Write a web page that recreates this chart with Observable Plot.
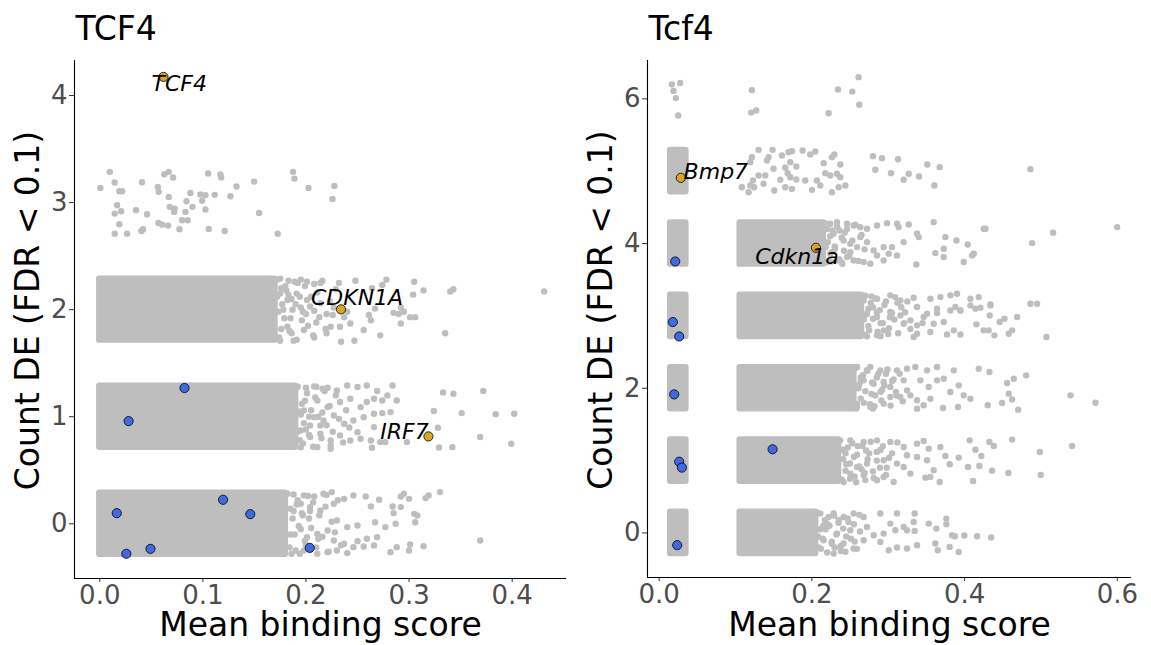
<!DOCTYPE html>
<html>
<head>
<meta charset="utf-8">
<script src="https://cdn.jsdelivr.net/npm/d3@7"></script>
<script src="https://cdn.jsdelivr.net/npm/@observablehq/plot@0.6"></script>
<style>
  html, body { margin: 0; padding: 0; background: #fff; }
  #left, #right { position: absolute; top: 0; }
  #left { left: 0; }
  #right { left: 580px; }
</style>
</head>
<body>
<div id="left"></div>
<div id="right"></div>
<script>
// ---------------- DATA: TCF4 (human) ----------------
const tcf4Title = "TCF4";
const tcf4XTicks = [0, 0.1, 0.2, 0.3, 0.4];
const tcf4YTicks = [0, 1, 2, 3, 4];
// dense cores of the jittered clouds: row (count DE), x extent
const tcf4DenseRow = [0, 1, 2];
const tcf4DenseX1 = [0, 0, 0];
const tcf4DenseX2 = [0.18, 0.19, 0.17];
// sparse gray genes [mean binding score, jittered count]
const tcf4Row3 = [[0.0097,3.287],[0.0006,3.137],[0.0145,3.187],[0.019,3.106],[0.0217,3.106],[0.0168,2.975],[0.0145,2.897],[0.0207,2.919],[0.019,2.798],[0.0145,2.71],[0.0265,2.71],[0.0352,2.928],[0.041,3.19],[0.0459,2.891],[0.0404,2.735],[0.042,2.751],[0.0563,3.146],[0.0572,3.1],[0.0569,2.81],[0.0605,2.794],[0.0663,2.785],[0.0627,3.265],[0.0669,3.287],[0.0711,3.234],[0.0669,3.053],[0.0679,2.96],[0.0727,2.944],[0.0721,2.913],[0.0773,2.751],[0.0799,2.835],[0.0854,2.835],[0.0831,2.913],[0.0841,3.012],[0.0879,3.09],[0.0899,2.96],[0.0976,3.075],[0.1025,3.069],[0.0993,3.016],[0.1025,2.935],[0.1051,3.271],[0.1057,2.754],[0.1115,3.072],[0.117,3.262],[0.1177,3.234],[0.1212,2.735],[0.1267,3.059],[0.1326,3.15],[0.1497,3.196],[0.1545,2.903],[0.1726,2.71],[0.1875,3.287],[0.1888,3.224],[0.2024,3.137],[0.2276,3.156],[0.2257,3.034]];
const tcf4Row2 = [[0.162,2.29],[0.169,2.27],[0.175,2.29],[0.183,2.27],[0.195,2.28],[0.201,2.26],[0.208,2.24],[0.214,2.25],[0.232,2.25],[0.248,2.27],[0.264,2.2],[0.278,2.28],[0.274,2.23],[0.305,2.26],[0.314,2.18],[0.304,2.14],[0.34,2.17],[0.343,2.19],[0.431,2.17],[0.175,2.15],[0.182,2.09],[0.191,2.15],[0.195,2.02],[0.201,2.09],[0.208,1.99],[0.214,2.06],[0.22,1.96],[0.227,2.02],[0.237,1.93],[0.24,1.98],[0.233,1.84],[0.243,1.87],[0.256,1.81],[0.261,1.95],[0.263,1.9],[0.267,2.01],[0.285,1.97],[0.29,1.96],[0.295,1.98],[0.301,1.93],[0.306,1.93],[0.292,1.87],[0.292,2.02],[0.272,1.76],[0.335,1.78],[0.247,1.71],[0.234,1.7],[0.22,1.78],[0.208,1.74],[0.198,1.81],[0.188,1.71],[0.175,1.71],[0.182,1.84],[0.169,1.78],[0.224,1.84],[0.172,2.12],[0.178,2.0],[0.185,1.92],[0.18,2.22],[0.19,2.05],[0.196,1.9],[0.186,1.78],[0.2,1.96],[0.205,2.12],[0.21,1.88],[0.176,1.82],[0.192,2.25],[0.183,2.14],[0.172,2.28],[0.174,1.74],[0.177,2.05],[0.179,1.92],[0.181,2.18],[0.184,1.8],[0.187,2.0],[0.189,2.26],[0.191,1.72],[0.194,2.12],[0.197,1.98],[0.199,2.22],[0.202,1.85],[0.204,2.03],[0.207,1.76],[0.211,2.16],[0.213,1.93],[0.216,2.27],[0.219,1.82],[0.223,2.08],[0.226,1.95],[0.229,2.19],[0.173,1.98],[0.176,2.2],[0.186,2.1]];
const tcf4Row1 = [[0.208,1.283],[0.216,1.261],[0.221,1.271],[0.23,1.246],[0.24,1.292],[0.25,1.277],[0.259,1.292],[0.269,1.24],[0.284,1.292],[0.279,1.199],[0.288,1.152],[0.211,1.152],[0.221,1.09],[0.233,1.137],[0.243,1.168],[0.253,1.09],[0.259,1.137],[0.266,1.168],[0.274,1.152],[0.198,1.059],[0.208,0.996],[0.217,0.965],[0.227,1.012],[0.237,0.934],[0.246,0.965],[0.256,0.996],[0.266,1.028],[0.274,1.034],[0.282,1.043],[0.195,0.872],[0.204,0.81],[0.214,0.841],[0.224,0.778],[0.233,0.825],[0.243,0.778],[0.253,0.794],[0.263,0.778],[0.272,0.763],[0.195,0.716],[0.211,0.716],[0.224,0.732],[0.264,0.71],[0.277,0.763],[0.298,0.763],[0.324,1.053],[0.328,0.897],[0.333,1.227],[0.343,1.215],[0.351,1.034],[0.372,1.24],[0.384,1.024],[0.402,1.028],[0.369,0.81],[0.329,0.713],[0.342,0.716],[0.399,0.747],[0.266,0.903],[0.25,0.856],[0.214,0.919],[0.204,0.919],[0.193,1.05],[0.197,0.75],[0.2,1.27],[0.192,0.86],[0.199,1.15],[0.203,1.0],[0.192,1.28],[0.194,0.78],[0.196,1.12],[0.198,0.94],[0.201,1.22],[0.203,0.83],[0.205,1.06],[0.207,0.72],[0.209,1.18],[0.212,1.0],[0.215,0.8],[0.218,1.24],[0.22,0.92],[0.223,1.1],[0.226,0.86],[0.229,1.2],[0.232,0.98],[0.236,0.76],[0.239,1.06],[0.242,0.9],[0.195,1.02],[0.2,0.88],[0.21,1.28],[0.216,1.04],[0.224,0.7]];
const tcf4Row0 = [[0.188,0.274],[0.198,0.265],[0.208,0.255],[0.217,0.28],[0.225,0.296],[0.195,0.187],[0.204,0.156],[0.214,0.125],[0.227,0.187],[0.237,0.233],[0.246,0.265],[0.258,0.255],[0.271,0.224],[0.292,0.255],[0.295,0.28],[0.3,0.233],[0.319,0.265],[0.316,0.24],[0.33,0.296],[0.263,0.162],[0.284,0.162],[0.292,0.156],[0.285,0.1],[0.305,0.093],[0.308,0.078],[0.306,0.015],[0.287,0.0],[0.277,-0.031],[0.267,0.015],[0.25,-0.016],[0.24,-0.031],[0.23,0.031],[0.221,-0.062],[0.211,-0.094],[0.201,-0.125],[0.227,-0.156],[0.237,-0.187],[0.25,-0.162],[0.259,-0.14],[0.269,-0.125],[0.266,-0.202],[0.256,-0.212],[0.246,-0.218],[0.23,-0.25],[0.221,-0.265],[0.24,-0.274],[0.282,-0.265],[0.288,-0.218],[0.301,-0.193],[0.314,-0.209],[0.3,-0.25],[0.369,-0.156],[0.198,-0.25],[0.211,-0.28],[0.185,-0.1],[0.19,-0.25],[0.188,0.12],[0.193,-0.02],[0.197,0.08],[0.186,-0.28],[0.192,0.22],[0.2,-0.2],[0.203,0.05],[0.182,0.28],[0.184,-0.22],[0.187,0.05],[0.189,-0.1],[0.191,0.18],[0.194,-0.28],[0.196,0.1],[0.199,-0.16],[0.202,0.26],[0.205,-0.04],[0.207,0.2],[0.21,-0.22],[0.213,0.08],[0.216,-0.12],[0.219,0.16],[0.222,-0.26],[0.225,0.02],[0.228,-0.08],[0.231,0.22],[0.234,-0.2],[0.185,0.14],[0.195,-0.05],[0.204,0.12],[0.212,-0.14],[0.22,0.27]];
// highlighted genes
const tcf4GeneNames = ["TCF4", "CDKN1A", "IRF7"];
const tcf4GeneX = [0.0618, 0.234, 0.3188];
const tcf4GeneY = [4.174, 2.003, 0.816];
const tcf4BlueX = [0.0822, 0.028, 0.0165, 0.0258, 0.0492, 0.1196, 0.146, 0.2037];
const tcf4BlueY = [1.268, 0.959, 0.099, -0.28, -0.234, 0.224, 0.09, -0.225];

// ---------------- DATA: Tcf4 (mouse) ----------------
const mTitle = "Tcf4";
const mXTicks = [0, 0.2, 0.4, 0.6];
const mYTicks = [0, 2, 4, 6];
const mDenseRow = [0, 1, 2, 3, 4, 0, 1, 2, 3, 4, 5];
const mDenseX1 = [0.106, 0.106, 0.106, 0.106, 0.106, 0.015, 0.015, 0.015, 0.015, 0.015, 0.015];
const mDenseX2 = [0.205, 0.235, 0.255, 0.265, 0.215, 0.035, 0.035, 0.035, 0.035, 0.035, 0.035];
const mRow6 = [[0.0166,6.2],[0.0275,6.22],[0.0188,6.11],[0.0218,6.01],[0.0249,5.77],[0.1214,6.12],[0.1206,5.81],[0.1271,5.84],[0.2219,5.8],[0.2342,6.13],[0.2529,6.1],[0.2612,6.3],[0.2621,5.92]];
const mRow5 = [[0.1302,5.295],[0.1485,5.295],[0.1214,5.194],[0.1193,5.125],[0.1433,5.194],[0.1411,5.148],[0.1608,5.217],[0.1695,5.263],[0.1739,5.277],[0.1879,5.286],[0.1979,5.231],[0.2045,5.272],[0.2154,5.111],[0.2263,5.194],[0.2294,5.231],[0.2372,5.093],[0.2438,4.802],[0.2372,4.917],[0.235,4.779],[0.2241,4.941],[0.2263,4.71],[0.211,4.802],[0.2001,4.742],[0.2066,4.872],[0.1913,4.872],[0.1796,4.885],[0.1717,4.917],[0.1682,4.973],[0.1651,5.047],[0.1796,5.065],[0.1717,5.125],[0.1498,5.033],[0.1389,4.941],[0.1302,4.941],[0.1228,4.872],[0.1193,4.802],[0.1083,4.779],[0.1171,4.71],[0.1245,4.779],[0.1367,4.826],[0.1507,4.733],[0.1586,4.881],[0.1651,4.779],[0.1739,4.756],[0.2329,4.964],[0.28,5.208],[0.2918,5.18],[0.3128,5.166],[0.2831,5.019],[0.3036,4.973],[0.3268,4.964],[0.3202,4.881],[0.3403,4.927],[0.3512,5.093],[0.3674,5.056],[0.3604,4.802],[0.4862,5.028],[0.2176,4.973]];
const mRow4 = [[0.2241,4.273],[0.2329,4.296],[0.246,4.273],[0.2547,4.25],[0.2634,4.227],[0.2722,4.204],[0.2853,4.25],[0.2984,4.282],[0.3115,4.273],[0.3137,4.227],[0.3268,4.264],[0.3377,4.135],[0.3399,4.089],[0.3595,4.296],[0.3748,4.089],[0.3893,4.043],[0.4041,3.987],[0.4251,4.204],[0.4273,4.204],[0.5159,4.149],[0.4884,4.006],[0.5998,4.227],[0.2416,4.043],[0.2503,3.997],[0.2591,3.951],[0.2722,4.02],[0.2809,3.905],[0.294,3.951],[0.3006,3.859],[0.3049,3.951],[0.3115,3.836],[0.3202,4.02],[0.246,3.813],[0.2547,3.767],[0.2678,3.744],[0.2765,3.721],[0.294,3.767],[0.2853,3.836],[0.3368,3.712],[0.3617,3.868],[0.3727,3.928],[0.3727,3.813],[0.3989,3.744],[0.4098,3.836],[0.412,3.859],[0.2503,3.882],[0.2329,3.767],[0.2263,3.882],[0.2285,4.135],[0.2634,4.089],[0.218,3.95],[0.22,4.2],[0.225,3.75],[0.23,3.92],[0.236,4.18],[0.239,3.74],[0.243,4.15],[0.217,4.28],[0.219,3.74],[0.221,4.02],[0.224,3.86],[0.227,4.18],[0.23,3.96],[0.233,4.24],[0.236,3.78],[0.239,4.08],[0.242,3.9],[0.246,4.2],[0.249,3.83],[0.253,4.04],[0.257,4.26],[0.261,3.76],[0.265,4.12],[0.269,3.92],[0.224,4.1],[0.24,3.72]];
const mRow3 = [[0.2329,3.26],[0.2503,3.284],[0.2678,3.214],[0.2853,3.237],[0.3027,3.284],[0.3159,3.214],[0.3333,3.251],[0.3552,3.237],[0.3683,3.26],[0.3814,3.284],[0.3901,3.307],[0.4076,3.237],[0.4185,3.26],[0.4338,3.145],[0.4862,3.168],[0.495,3.168],[0.3377,3.122],[0.3639,3.099],[0.3945,3.076],[0.4142,3.099],[0.2722,3.03],[0.2853,2.984],[0.3027,3.053],[0.3159,3.007],[0.329,2.938],[0.3377,2.869],[0.3464,2.984],[0.3508,3.03],[0.3639,3.039],[0.3727,2.915],[0.3814,3.076],[0.3879,3.122],[0.3945,3.076],[0.4076,3.145],[0.4207,3.113],[0.4338,3.159],[0.4329,3.007],[0.446,2.915],[0.4522,2.961],[0.4688,2.984],[0.4155,2.883],[0.4251,2.8],[0.4316,2.8],[0.4391,2.731],[0.4578,2.754],[0.4622,2.8],[0.5072,2.708],[0.377,2.744],[0.3858,2.8],[0.3945,2.744],[0.3552,2.777],[0.3377,2.754],[0.3333,2.708],[0.294,2.8],[0.2853,2.731],[0.2722,2.717],[0.3202,2.892],[0.3595,2.892],[0.268,2.95],[0.275,2.8],[0.28,3.12],[0.29,2.9],[0.295,3.15],[0.27,3.28],[0.285,3.05],[0.3,2.75],[0.308,2.95],[0.312,3.18],[0.278,3.27],[0.322,3.05],[0.345,2.9],[0.267,3.28],[0.269,2.74],[0.271,3.02],[0.274,2.86],[0.277,3.18],[0.28,2.96],[0.283,3.24],[0.286,2.78],[0.289,3.08],[0.293,2.9],[0.297,3.2],[0.301,2.83],[0.305,3.04],[0.309,3.26],[0.313,2.76],[0.317,3.12],[0.321,2.9],[0.325,3.2],[0.329,2.82],[0.274,3.1],[0.29,2.72],[0.302,2.98]];
const mRow2 = [[0.2591,2.293],[0.2765,2.293],[0.2896,2.247],[0.3115,2.247],[0.3246,2.27],[0.3355,2.293],[0.3508,2.247],[0.3639,2.293],[0.3858,2.247],[0.4185,2.27],[0.4325,2.224],[0.4806,2.178],[0.4644,2.131],[0.4557,2.072],[0.2678,2.109],[0.2809,2.063],[0.294,2.086],[0.3027,2.017],[0.3202,2.109],[0.3421,2.109],[0.3639,2.109],[0.3727,2.131],[0.3923,2.04],[0.353,2.017],[0.3246,1.971],[0.3027,1.878],[0.3159,1.878],[0.329,1.902],[0.3377,1.833],[0.3552,1.855],[0.3989,1.902],[0.4076,1.855],[0.3814,1.948],[0.4578,1.925],[0.4622,1.846],[0.4491,1.796],[0.4303,1.764],[0.4701,1.704],[0.3914,1.741],[0.3718,1.727],[0.3377,1.718],[0.3464,1.764],[0.294,1.787],[0.2765,1.741],[0.2591,1.787],[0.5387,1.902],[0.5714,1.8],[0.262,2.05],[0.268,1.8],[0.272,2.25],[0.258,1.72],[0.278,1.92],[0.285,2.15],[0.29,1.95],[0.297,2.2],[0.305,2.1],[0.264,2.15],[0.282,1.75],[0.31,1.95],[0.257,2.28],[0.259,1.74],[0.261,2.0],[0.264,1.86],[0.267,2.18],[0.27,1.96],[0.273,2.24],[0.276,1.78],[0.279,2.08],[0.283,1.9],[0.287,2.2],[0.291,1.83],[0.295,2.04],[0.299,2.26],[0.303,1.76],[0.307,2.12],[0.311,1.9],[0.315,2.2],[0.319,1.82],[0.264,2.1],[0.28,1.72],[0.292,1.98]];
const mRow1 = [[0.2503,1.28],[0.2678,1.258],[0.2853,1.28],[0.3027,1.258],[0.3202,1.188],[0.3377,1.234],[0.3464,1.271],[0.353,1.165],[0.3683,1.188],[0.3748,1.064],[0.3923,1.041],[0.4067,1.28],[0.4142,1.151],[0.422,1.064],[0.4325,1.258],[0.4382,1.202],[0.4622,1.29],[0.4985,1.119],[0.5408,1.202],[0.3246,1.073],[0.3377,1.05],[0.3508,1.004],[0.3595,0.866],[0.3552,0.774],[0.3674,0.705],[0.3486,0.764],[0.3202,0.912],[0.329,0.82],[0.3071,0.705],[0.294,0.774],[0.2853,0.728],[0.2678,0.797],[0.2503,0.82],[0.2591,0.912],[0.2722,0.958],[0.294,1.004],[0.3115,0.958],[0.3805,0.949],[0.4045,0.912],[0.4194,0.926],[0.4111,0.718],[0.436,0.861],[0.4574,0.829],[0.4998,0.802],[0.2416,0.705],[0.24,1.15],[0.245,0.95],[0.255,1.05],[0.26,1.2],[0.265,0.88],[0.275,1.1],[0.28,0.85],[0.29,1.15],[0.298,0.9],[0.305,1.1],[0.312,1.25],[0.25,0.75],[0.27,0.73],[0.285,1.0],[0.237,1.28],[0.239,0.74],[0.241,1.02],[0.244,0.86],[0.247,1.18],[0.25,0.96],[0.253,1.24],[0.256,0.78],[0.259,1.08],[0.262,0.92],[0.266,1.2],[0.269,0.83],[0.273,1.02],[0.277,1.26],[0.281,0.76],[0.285,1.12],[0.289,0.9],[0.293,1.2],[0.297,0.8],[0.301,1.04],[0.244,1.1],[0.258,0.7],[0.271,1.14]];
const mRow0 = [[0.211,0.268],[0.2285,0.268],[0.2416,0.221],[0.2547,0.268],[0.2678,0.221],[0.2896,0.268],[0.3115,0.268],[0.3346,0.268],[0.3333,0.152],[0.3202,0.083],[0.3093,0.037],[0.3246,0.037],[0.3346,0.028],[0.353,0.129],[0.363,0.06],[0.3761,0.198],[0.3761,0.12],[0.3836,-0.032],[0.3997,-0.036],[0.4163,-0.046],[0.4347,-0.064],[0.3871,-0.046],[0.3617,-0.147],[0.3805,-0.193],[0.3648,-0.239],[0.3923,-0.262],[0.3377,-0.17],[0.3246,-0.216],[0.3115,-0.202],[0.3006,-0.239],[0.2896,-0.124],[0.2809,-0.032],[0.2678,-0.101],[0.2547,-0.216],[0.2416,-0.147],[0.2285,-0.285],[0.2154,-0.101],[0.2329,-0.009],[0.2503,0.037],[0.2722,0.083],[0.294,-0.009],[0.3027,0.129],[0.2197,0.129],[0.208,-0.05],[0.212,-0.22],[0.218,0.05],[0.222,0.22],[0.226,-0.15],[0.235,0.18],[0.238,-0.25],[0.245,-0.05],[0.248,0.15],[0.256,-0.12],[0.262,0.25],[0.215,0.1],[0.23,-0.2],[0.207,0.28],[0.209,-0.2],[0.211,0.05],[0.214,-0.08],[0.217,0.18],[0.22,-0.27],[0.223,0.1],[0.226,-0.12],[0.229,0.24],[0.232,-0.02],[0.235,0.14],[0.238,-0.18],[0.241,0.06],[0.244,-0.26],[0.247,0.2],[0.251,-0.08],[0.255,0.12],[0.259,-0.22],[0.263,0.02]];
const mGeneNames = ["Bmp7", "Cdkn1a"];
const mGeneX = [0.0284, 0.2053];
const mGeneY = [4.908, 3.941];
const mBlueX = [0.021, 0.0179, 0.0262, 0.0197, 0.0262, 0.0297, 0.1485, 0.0236];
const mBlueY = [3.752, 2.915, 2.716, 1.915, 0.985, 0.903, 1.156, -0.169];

// ---------------- DRAWING ----------------
const GREY = "#bebebe", BLUE = "#4169e1", GOLD = "#daa520";
const JIT = 0.285;
const fmt = d3.format(".1f");
const FONT = "DejaVu Sans, sans-serif";

function panel(cfg) {
  const dense = cfg.denseRow.map((r, i) => ({row: r, x1: cfg.denseX1[i], x2: cfg.denseX2[i]}));
  const grey = cfg.sparse.flat().map(([x, y]) => ({x, y}));
  const blue = cfg.blueX.map((x, i) => ({x, y: cfg.blueY[i]}));
  const genes = cfg.geneNames.map((name, i) => ({name, x: cfg.geneX[i], y: cfg.geneY[i]}));
  const labelMarks = genes.map((g, i) => Plot.text([g], {
    x: "x", y: "y", text: "name", dx: cfg.labelDx[i], dy: cfg.labelDy[i],
    fontStyle: "italic", fontSize: 22, fill: "black", textAnchor: "middle", lineAnchor: "bottom"
  }));
  return Plot.plot({
    width: cfg.width, height: 645,
    marginLeft: cfg.marginLeft, marginRight: cfg.marginRight, marginTop: 60, marginBottom: cfg.marginBottom,
    style: {fontFamily: FONT, fontSize: "26px", background: "white", overflow: "visible"},
    x: {domain: cfg.xDomain, axis: null},
    y: {domain: cfg.yDomain, axis: null},
    marks: [
      Plot.rect(dense, {x1: "x1", x2: "x2", y1: d => d.row - JIT, y2: d => d.row + JIT,
        fill: GREY, stroke: GREY, strokeWidth: 6.4, strokeLinejoin: "round"}),
      Plot.dot(grey, {x: "x", y: "y", r: 3.2, fill: GREY}),
      Plot.dot(blue, {x: "x", y: "y", r: 4.6, fill: BLUE, stroke: "black", strokeWidth: 0.8}),
      Plot.dot(genes, {x: "x", y: "y", r: 4.6, fill: GOLD, stroke: "black", strokeWidth: 0.8}),
      ...labelMarks,
      Plot.ruleX([cfg.xDomain[0]], {stroke: "black", strokeWidth: 1.1}),
      Plot.ruleY([cfg.yDomain[0]], {stroke: "black", strokeWidth: 1.1}),
      Plot.axisX({ticks: cfg.xTicks, tickFormat: fmt, tickSize: 4, tickPadding: 3,
        fontSize: 26, stroke: "#333", fill: "#4d4d4d", label: null}),
      Plot.axisY({ticks: cfg.yTicks, tickFormat: d => d, tickSize: 5, tickPadding: 2,
        fontSize: 26, stroke: "#333", fill: "#4d4d4d", label: null}),
      Plot.text([cfg.title], {frameAnchor: "top-left", textAnchor: "start", lineAnchor: "bottom",
        dx: 1, dy: -20.5, fontSize: 33, fill: "black"}),
      Plot.text(["Mean binding score"], {frameAnchor: "bottom", textAnchor: "middle", lineAnchor: "bottom",
        dy: cfg.xTitleDy, fontSize: 33, fill: "black"}),
      Plot.text(["Count DE (FDR < 0.1)"], {frameAnchor: "left", textAnchor: "middle", lineAnchor: "bottom",
        rotate: -90, dx: -36, dy: cfg.yTitleDy, fontSize: 33, fill: "black"})
    ]
  });
}

document.getElementById("left").appendChild(panel({
  title: tcf4Title, width: 580, marginLeft: 74, marginRight: 14, marginBottom: 67,
  xDomain: [-0.0245, 0.4527], yDomain: [-0.511, 4.327],
  xTicks: tcf4XTicks, yTicks: tcf4YTicks,
  denseRow: tcf4DenseRow, denseX1: tcf4DenseX1, denseX2: tcf4DenseX2,
  sparse: [tcf4Row3, tcf4Row2, tcf4Row1, tcf4Row0],
  blueX: tcf4BlueX, blueY: tcf4BlueY,
  geneNames: tcf4GeneNames, geneX: tcf4GeneX, geneY: tcf4GeneY,
  labelDx: [15.7, 16, -24], labelDy: [14, -4, 2.3],
  xTitleDy: 57, yTitleDy: -9
}));
document.getElementById("right").appendChild(panel({
  title: mTitle, width: 571, marginLeft: 67, marginRight: 20, marginBottom: 68,
  xDomain: [-0.0153, 0.6186], yDomain: [-0.616, 6.53],
  xTicks: mXTicks, yTicks: mYTicks,
  denseRow: mDenseRow, denseX1: mDenseX1, denseX2: mDenseX2,
  sparse: [mRow6, mRow5, mRow4, mRow3, mRow2, mRow1, mRow0],
  blueX: mBlueX, blueY: mBlueY,
  geneNames: mGeneNames, geneX: mGeneX, geneY: mGeneY,
  labelDx: [35, -19], labelDy: [1.6, 16.6],
  xTitleDy: 58, yTitleDy: -9
}));
</script>
</body>
</html>
